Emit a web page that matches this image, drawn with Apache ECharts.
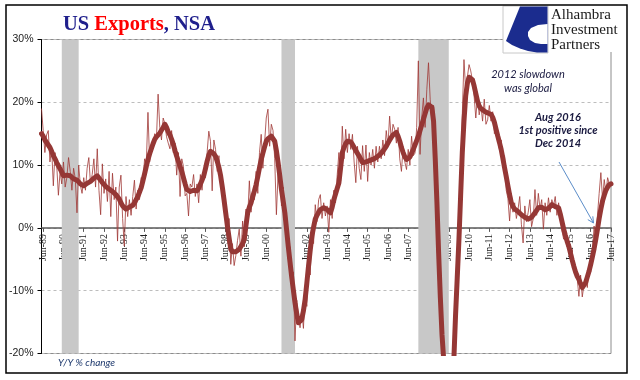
<!DOCTYPE html>
<html>
<head>
<meta charset="utf-8">
<script src="https://cdn.jsdelivr.net/npm/echarts@6/dist/echarts.min.js"></script>
<style>
html,body{margin:0;padding:0;background:#fff;}
#c{width:640px;height:380px;}
</style>
</head>
<body>
<div id="c"></div>
<script>
// Monthly categories: May-1989 .. Jun-2017
const startYear = 1989;
const startMonth = 4; // May (0-based)
const monthCount = 338;
const monthNames = ['Jan','Feb','Mar','Apr','May','Jun','Jul','Aug','Sep','Oct','Nov','Dec'];
const tickMonth = 'Jun';

// Monthly Y/Y % change (thin line)
const yoyMonthly = [
 19.0, 15.5, 12.0, 14.8, 15.5, 10.5, 12.8, 6.7, 12.0, 10.0, 5.2, 9.0,
 7.0, 10.5, 6.5, 8.0, 11.2, 9.0, 6.0, 9.5, 7.8, 2.4, 10.0, 6.8,
 5.5, 8.0, 6.0, 9.5, 11.2, 7.0, 8.5, 11.0, 6.5, 12.6, 6.0, 2.1,
 10.2, 5.5, 7.8, 4.2, 9.0, 1.8, 8.7, 4.5, 6.5, -2.1, 6.5, 8.4,
 1.5, -2.9, 5.0, 1.8, 4.5, 2.0, 5.0, 7.6, 3.0, 6.0, 4.5, 8.0,
 7.0, 11.0, 10.0, 18.4, 10.5, 12.6, 13.5, 15.0, 14.0, 21.3, 16.0, 14.0,
 17.5, 16.6, 14.5, 13.5, 12.6, 15.5, 12.0, 13.5, 8.4, 12.0, 5.0, 11.0,
 9.8, 5.1, 5.5, 1.9, 7.0, 6.5, 8.5, 5.0, 7.0, 4.0, 8.5, 6.0,
 9.3, 8.0, 12.0, 15.4, 13.8, 5.9, 14.0, 12.5, 9.0, 11.5, 7.5, 8.0,
 3.0, 4.0, -1.3, 1.5, -5.8, -2.5, -6.0, -4.4, -2.0, -0.2, -4.5, 1.1,
 -3.0, 3.0, 1.5, 7.5, 2.5, 6.0, 4.5, 9.0, 5.5, 12.0, 14.9, 9.5,
 13.5, 17.5, 18.9, 13.0, 16.5, 15.5, 11.0, 2.1, 8.7, 10.0, 3.5, 6.5,
 0.5, 2.0, -5.0, -3.0, -9.5, -7.0, -18.0, -11.5, -14.0, -15.9, -13.0, -16.0,
 -10.0, -12.5, -4.5, -7.5, -0.5, -2.5, 3.7, 1.0, 4.5, 5.3, 1.5, 4.0,
 1.9, 3.5, -0.7, 4.5, 1.5, 6.0, 4.0, 8.5, 12.0, 7.5, 16.2, 11.0,
 15.7, 12.0, 15.0, 12.5, 14.9, 10.5, 7.2, 13.0, 9.5, 7.7, 13.1, 9.0,
 13.2, 7.4, 12.0, 10.0, 12.5, 9.5, 13.0, 10.5, 13.0, 11.0, 14.0, 11.5,
 15.5, 13.0, 17.8, 14.0, 16.5, 15.7, 13.5, 16.0, 11.0, 9.0, 13.0, 10.5,
 9.3, 12.5, 10.0, 14.6, 11.5, 11.9, 16.0, 26.6, 11.7, 17.5, 20.7, 16.0,
 22.0, 26.3, 20.5, 17.0, 19.5, 14.0, 6.0, -2.0, -9.0, -18.0, -23.0, -27.0,
 -30.0, -29.0, -31.0, -27.0, -24.0, -17.0, -10.0, -4.0, 8.0, 18.0, 26.8, 22.0,
 22.0, 26.0, 25.0, 23.5, 21.0, 17.5, 21.0, 18.0, 19.5, 17.0, 20.5, 16.5,
 17.2, 19.5, 17.0, 18.5, 15.0, 16.5, 14.0, 12.5, 14.0, 10.0, 11.5, 6.0,
 4.7, 1.1, 5.5, 2.5, 4.0, 1.5, 3.0, 5.0, 0.5, -2.4, 3.5, 1.0,
 2.5, 4.5, 0.2, 1.5, 6.1, 2.0, 5.5, 3.0, 4.5, -0.2, 4.0, 2.0,
 4.8, 2.5, 4.5, 3.5, 5.0, 2.0, 4.0, 1.5, -0.5, -1.8, -0.5, -3.0,
 -2.0, -4.5, -3.4, -7.0, -6.5, -8.0, -10.9, -7.5, -11.0, -9.0, -8.0, -9.5,
 -6.0, -7.0, -4.0, 0.3, -2.5, 2.0, 5.5, 8.8, 4.5, 7.7, 5.5, 8.0,
 7.0, 6.8
];

// Smoothed Y/Y % change (thick line)
const yoySmoothed = [
 15.0, 14.6, 14.0, 13.6, 13.2, 12.8, 12.2, 11.5, 11.0, 10.4, 9.9, 9.4,
 8.9, 8.3, 8.1, 8.4, 8.6, 8.3, 8.0, 7.8, 7.7, 7.6, 7.3, 7.0,
 6.8, 6.7, 6.9, 7.1, 7.3, 7.4, 7.6, 7.9, 8.1, 8.3, 8.1, 7.6,
 7.2, 6.9, 6.6, 6.4, 6.2, 6.1, 5.8, 5.5, 5.3, 5.1, 4.6, 4.0,
 3.5, 3.2, 3.0, 3.1, 3.3, 3.2, 3.6, 4.0, 4.5, 5.0, 5.7, 6.4,
 7.5, 8.6, 9.8, 10.9, 11.8, 12.6, 13.4, 14.1, 14.5, 14.8, 15.1, 15.4,
 16.0, 16.5, 16.0, 15.3, 14.8, 14.1, 13.3, 12.3, 11.4, 10.6, 9.8, 9.0,
 8.0, 7.0, 6.1, 5.9, 5.8, 5.9, 6.0, 6.0, 5.9, 6.3, 7.0, 7.6,
 8.3, 9.4, 10.6, 11.6, 12.2, 12.0, 11.8, 11.4, 10.6, 9.6, 8.3, 6.5,
 4.5, 2.4, 0.3, -1.6, -3.4, -3.8, -4.0, -3.8, -3.6, -3.4, -3.2, -2.5,
 -1.8, 0.4, 2.4, 3.3, 4.0, 5.0, 5.9, 6.9, 8.2, 9.6, 10.9, 11.9,
 12.9, 13.8, 14.2, 14.5, 14.6, 14.4, 13.8, 12.3, 10.4, 8.3, 6.1, 4.3,
 2.4, -0.2, -2.9, -5.3, -7.7, -9.8, -11.9, -13.6, -15.1, -15.2, -14.6, -13.2,
 -11.4, -8.8, -6.1, -3.6, -1.3, 0.1, 1.4, 2.0, 2.5, 2.9, 3.1, 3.2,
 3.2, 2.9, 2.6, 2.4, 3.3, 4.5, 5.4, 6.3, 7.2, 9.6, 12.0, 12.8,
 13.4, 13.8, 13.8, 13.7, 13.3, 12.8, 12.3, 12.0, 11.4, 10.9, 10.4, 10.4,
 10.5, 10.6, 10.7, 10.8, 10.9, 11.0, 11.2, 11.4, 11.6, 11.9, 12.2, 12.5,
 13.0, 13.5, 14.0, 14.4, 14.8, 15.0, 15.2, 14.6, 13.8, 12.8, 12.0, 11.3,
 10.9, 10.9, 11.3, 11.9, 12.5, 13.2, 13.9, 14.6, 15.5, 16.4, 17.3, 18.2,
 19.1, 19.6, 19.9, 19.2, 17.0, 11.0, 4.0, -4.0, -11.0, -17.0, -21.0, -25.0,
 -27.5, -28.5, -28.5, -26.5, -21.0, -14.0, -8.0, -2.0, 5.0, 12.0, 17.0, 21.0,
 23.0, 24.0, 24.2, 23.6, 22.6, 21.4, 20.2, 19.4, 19.0, 18.8, 18.6, 18.4,
 18.3, 18.1, 18.1, 17.6, 16.8, 15.7, 14.6, 13.6, 12.5, 11.1, 9.6, 8.2,
 6.7, 5.3, 4.0, 3.4, 3.0, 2.9, 2.6, 2.3, 2.1, 1.9, 1.7, 1.5,
 1.4, 1.4, 1.7, 2.0, 2.4, 2.8, 3.2, 3.5, 3.3, 3.1, 2.9, 2.9,
 3.1, 3.4, 3.7, 3.6, 3.4, 3.2, 3.2, 2.2, 1.0, -0.2, -1.2, -2.1,
 -2.9, -4.0, -5.1, -6.1, -7.0, -7.7, -8.2, -8.9, -9.5, -9.2, -8.7, -7.8,
 -6.9, -5.8, -4.6, -3.3, -1.8, -0.2, 1.5, 3.0, 4.3, 5.2, 6.0, 6.5,
 6.9, 7.0
];

// Recession shading (start, end month labels)
const recessions = [['May-90', 'Mar-91'], ['Mar-01', 'Nov-01'], ['Dec-07', 'Jun-09']];

// Value axis range
const yMin = -20, yMax = 30, yStep = 10;

const categories = [];
for (let i = 0; i < monthCount; i++) {
  const m = (startMonth + i) % 12;
  const y = startYear + Math.floor((startMonth + i) / 12);
  categories.push(monthNames[m] + '-' + String(y % 100).padStart(2, '0'));
}
const isTick = (idx, val) => String(val === undefined ? categories[idx] : val).indexOf(tickMonth) === 0;

const gridTop = 39.5, gridBottom = 26.5, chartH = 380;
const gridH = chartH - gridTop - gridBottom;
const zeroOffset = -gridH * (0 - yMin) / (yMax - yMin);

const chart = echarts.init(document.getElementById('c'), null, {renderer: 'canvas'});
const textColor = '#1a1a40';

chart.setOption({
  animation: false,
  backgroundColor: '#fff',
  title: {
    text: '{a|US }{b|Exports}{a|, NSA}',
    left: 58, top: 9,
    textStyle: {
      rich: {
        a: {fontFamily: 'Liberation Serif', fontWeight: 'bold', fontSize: 20.5, color: '#1F1F8C'},
        b: {fontFamily: 'Liberation Serif', fontWeight: 'bold', fontSize: 20.5, color: '#FF0000'}
      }
    }
  },
  grid: {left: 41.5, right: 29, top: gridTop, bottom: gridBottom, show: true, borderColor: '#8c8c8c', borderWidth: 1,
         backgroundColor: 'transparent', containLabel: false, outerBoundsMode: 'none'},
  xAxis: {
    type: 'category',
    data: categories,
    boundaryGap: false,
    position: 'bottom',
    offset: zeroOffset,
    axisLine: {onZero: false, lineStyle: {color: '#595959', width: 1.5}},
    axisTick: {show: true, interval: (i, v) => isTick(i, v), length: 4, lineStyle: {color: '#595959'}},
    axisLabel: {
      interval: (i, v) => isTick(i, v),
      rotate: 90, margin: 6,
      fontFamily: 'Liberation Serif', fontSize: 10, color: '#222'
    },
    splitLine: {show: false}
  },
  yAxis: {
    type: 'value', min: yMin, max: yMax, interval: yStep,
    axisLine: {show: true, lineStyle: {color: '#000', width: 1}},
    axisTick: {show: true, length: 4, lineStyle: {color: '#000'}},
    axisLabel: {formatter: '{value}%', fontFamily: 'Liberation Sans', fontSize: 10.5, color: '#222', margin: 8},
    splitLine: {show: true, lineStyle: {color: '#bdbdbd', type: [3, 3], width: 1}}
  },
  series: [
    {
      type: 'line', data: yoyMonthly, showSymbol: false, z: 2,
      lineStyle: {width: 1, color: 'rgba(160,56,54,0.8)'},
      markArea: {
        silent: true,
        itemStyle: {color: '#c8c8c8'},
        data: recessions.map(r => [{xAxis: r[0]}, {xAxis: r[1]}])
      }
    },
    {
      type: 'line', data: yoySmoothed, showSymbol: false, z: 3,
      lineStyle: {width: 5, color: '#953735', cap: 'round', join: 'round'}
    }
  ],
  graphic: [
    {type: 'rect', z: 100, shape: {x: 503, y: 6, width: 123, height: 46}, style: {fill: '#fff'}},
    {type: 'rect', z: 101, shape: {x: 503, y: 6, width: 45, height: 47}, style: {fill: '#fff', stroke: '#c8c8c8', lineWidth: 1}},
    {type: 'polygon', z: 102, shape: {points: [[520, 6.5], [547.5, 6.5], [547.5, 52.5], [537, 52.5], [528, 51], [520, 48.5], [512, 45], [506, 41]]}, style: {fill: '#1B2C8E'}},
    {type: 'polygon', z: 103, shape: {points: [[547.5, 24], [538, 25], [531, 28], [528, 32], [528, 36], [530, 40], [535, 43], [541, 44], [547.5, 44]]}, style: {fill: '#fff'}},
    {type: 'text', z: 104, style: {text: 'Alhambra', x: 551, y: 15, font: '15px "Liberation Serif"', fill: '#1a1a1a', textVerticalAlign: 'middle'}},
    {type: 'text', z: 104, style: {text: 'Investment', x: 551, y: 30, font: '15px "Liberation Serif"', fill: '#1a1a1a', textVerticalAlign: 'middle'}},
    {type: 'text', z: 104, style: {text: 'Partners', x: 551, y: 45, font: '15px "Liberation Serif"', fill: '#1a1a1a', textVerticalAlign: 'middle'}},
    {type: 'rect', z: 105, shape: {x: 6, y: 5, width: 621, height: 368}, style: {fill: 'none', stroke: '#000', lineWidth: 1.5}},
    {type: 'text', z: 104, style: {text: '2012 slowdown', x: 528, y: 74, font: 'italic 11px Lato', fill: textColor, textAlign: 'center', textVerticalAlign: 'middle'}},
    {type: 'text', z: 104, style: {text: 'was global', x: 528, y: 88, font: 'italic 11px Lato', fill: textColor, textAlign: 'center', textVerticalAlign: 'middle'}},
    {type: 'text', z: 104, style: {text: 'Aug 2016', x: 558, y: 117, font: 'italic bold 11px Lato', fill: textColor, textAlign: 'center', textVerticalAlign: 'middle'}},
    {type: 'text', z: 104, style: {text: '1st positive since', x: 558, y: 130.5, font: 'italic bold 11px Lato', fill: textColor, textAlign: 'center', textVerticalAlign: 'middle'}},
    {type: 'text', z: 104, style: {text: 'Dec 2014', x: 558, y: 143.5, font: 'italic bold 11px Lato', fill: textColor, textAlign: 'center', textVerticalAlign: 'middle'}},
    {type: 'line', z: 104, shape: {x1: 559, y1: 162, x2: 593.5, y2: 223}, style: {stroke: '#5B8DC9', lineWidth: 1}},
    {type: 'polyline', z: 104, shape: {points: [[587.8, 219.6], [593.5, 223], [592.8, 216.3]]}, style: {stroke: '#5B8DC9', lineWidth: 1, fill: 'none'}},
    {type: 'text', z: 104, style: {text: 'Y/Y % change', x: 58, y: 363, font: 'italic 10px Lato', fill: '#1F3A6E', textVerticalAlign: 'middle'}}
  ]
});
</script>
</body>
</html>
